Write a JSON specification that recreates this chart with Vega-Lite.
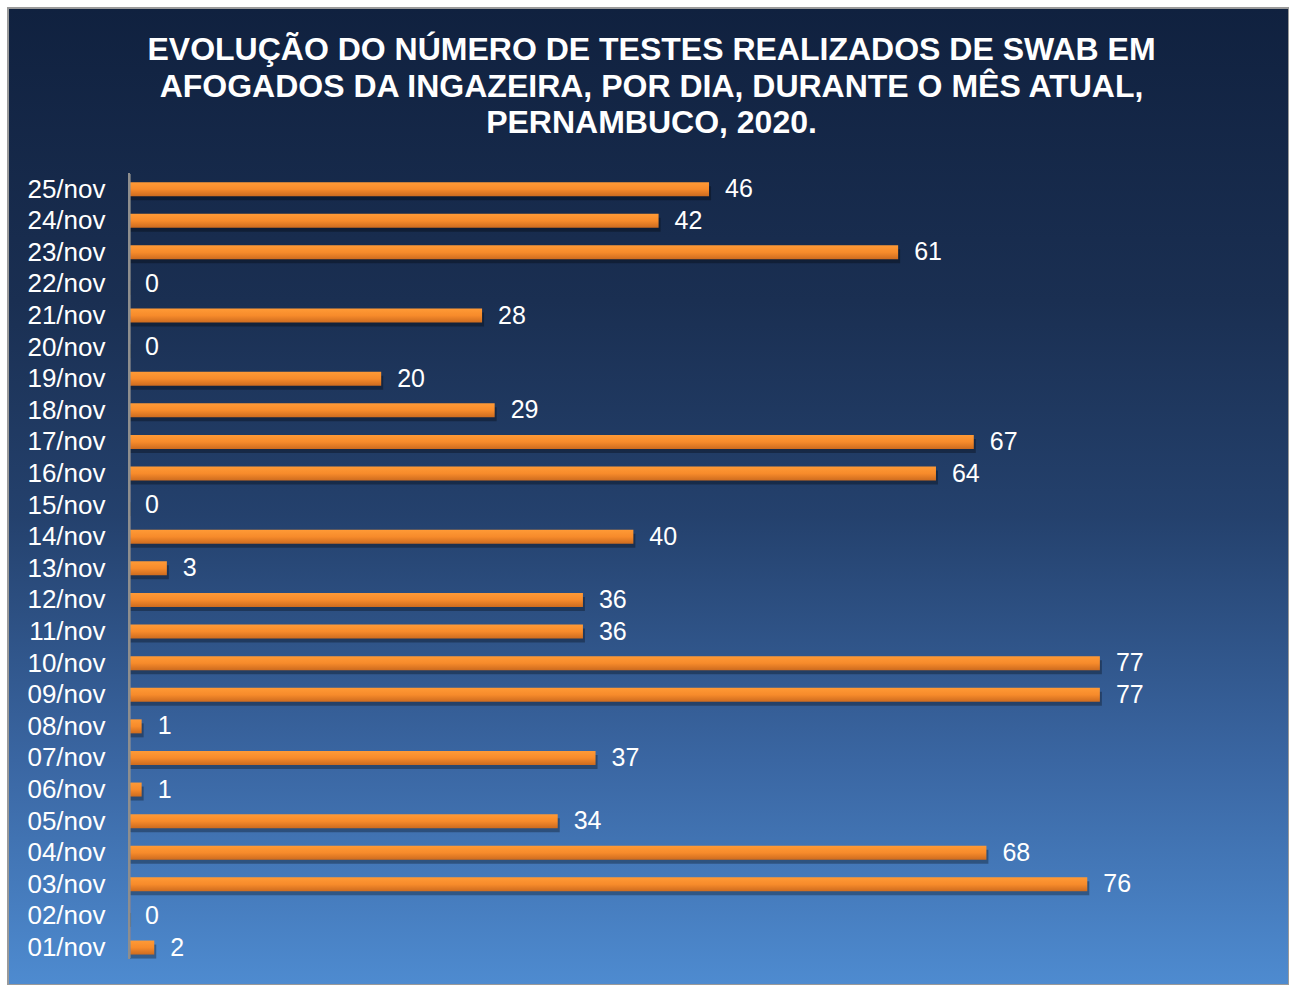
{
  "$schema": "https://vega.github.io/schema/vega-lite/v6.json",
  "autosize": {"type": "fit", "contains": "padding"},
  "width": 1289,
  "height": 985,
  "padding": {"left": 8, "top": 8, "right": 0, "bottom": 0},
  "background": "white",
  "title": {
    "text": ["EVOLUÇÃO DO NÚMERO DE TESTES REALIZADOS DE SWAB EM", "AFOGADOS DA INGAZEIRA, POR DIA, DURANTE O MÊS ATUAL,", "PERNAMBUCO, 2020."],
    "font": "Liberation Sans",
    "fontSize": 32,
    "fontWeight": "bold",
    "color": "white",
    "anchor": "middle",
    "lineHeight": 36.5,
    "offset": -132,
    "dx": 3
  },
  "data": {
    "values": [
      {"day": 25, "testes": 46},
      {"day": 24, "testes": 42},
      {"day": 23, "testes": 61},
      {"day": 22, "testes": 0},
      {"day": 21, "testes": 28},
      {"day": 20, "testes": 0},
      {"day": 19, "testes": 20},
      {"day": 18, "testes": 29},
      {"day": 17, "testes": 67},
      {"day": 16, "testes": 64},
      {"day": 15, "testes": 0},
      {"day": 14, "testes": 40},
      {"day": 13, "testes": 3},
      {"day": 12, "testes": 36},
      {"day": 11, "testes": 36},
      {"day": 10, "testes": 77},
      {"day": 9, "testes": 77},
      {"day": 8, "testes": 1},
      {"day": 7, "testes": 37},
      {"day": 6, "testes": 1},
      {"day": 5, "testes": 34},
      {"day": 4, "testes": 68},
      {"day": 3, "testes": 76},
      {"day": 2, "testes": 0},
      {"day": 1, "testes": 2}
    ]
  },
  "encoding": {
    "y": {
      "field": "day",
      "type": "quantitative",
      "scale": {"domain": [-0.027, 30.575], "zero": false, "nice": false},
      "axis": {
        "orient": "left",
        "offset": -121,
        "values": [1,2,3,4,5,6,7,8,9,10,11,12,13,14,15,16,17,18,19,20,21,22,23,24,25],
        "labelExpr": "(datum.value < 10 ? '0' : '') + datum.value + '/nov'",
        "domain": false,
        "ticks": false,
        "tickSize": 0,
        "grid": false,
        "labelPadding": 24,
        "labelFont": "Liberation Sans",
        "labelFontSize": 26,
        "labelColor": "white",
        "labelAlign": "right",
        "labelBaseline": "middle",
        "title": null
      }
    }
  },
  "layer": [
    {
      "mark": {"type": "bar", "orient": "horizontal", "height": 14, "color": "#000000", "opacity": 0.3, "yOffset": 4, "xOffset": 2},
      "encoding": {
        "x": {"field": "testes", "type": "quantitative", "scale": {"domain": [-9.6, 92.0], "zero": false, "nice": false}, "axis": null, "stack": null}
      }
    },
    {
      "mark": {
        "type": "bar",
        "orient": "horizontal",
        "height": 14,
        "color": {
          "gradient": "linear",
          "x1": 0, "y1": 0, "x2": 0, "y2": 1,
          "stops": [
            {"offset": 0, "color": "#ff9a36"},
            {"offset": 0.5, "color": "#f78b2b"},
            {"offset": 1, "color": "#cd6b1f"}
          ]
        }
      },
      "encoding": {
        "x": {"field": "testes", "type": "quantitative", "stack": null}
      }
    },
    {
      "mark": {"type": "rule", "color": "#8e8e8e", "strokeWidth": 2},
      "encoding": {
        "x": {"datum": 0},
        "y": {"datum": 25.5},
        "y2": {"datum": 0.65}
      }
    },
    {
      "mark": {"type": "text", "align": "left", "baseline": "middle", "dx": 16, "font": "Liberation Sans", "fontSize": 25, "color": "white"},
      "encoding": {
        "x": {"field": "testes", "type": "quantitative"},
        "text": {"field": "testes", "type": "quantitative"}
      }
    }
  ],
  "config": {
    "view": {
      "fill": {
        "gradient": "linear",
        "x1": 0, "y1": 0, "x2": 0, "y2": 1,
        "stops": [
          {"offset": 0, "color": "#10213f"},
          {"offset": 0.3, "color": "#1a2f52"},
          {"offset": 0.52, "color": "#24416d"},
          {"offset": 0.77, "color": "#3a66a2"},
          {"offset": 1, "color": "#4e8bd0"}
        ]
      },
      "stroke": "#9a9a9a",
      "strokeWidth": 2
    }
  }
}
